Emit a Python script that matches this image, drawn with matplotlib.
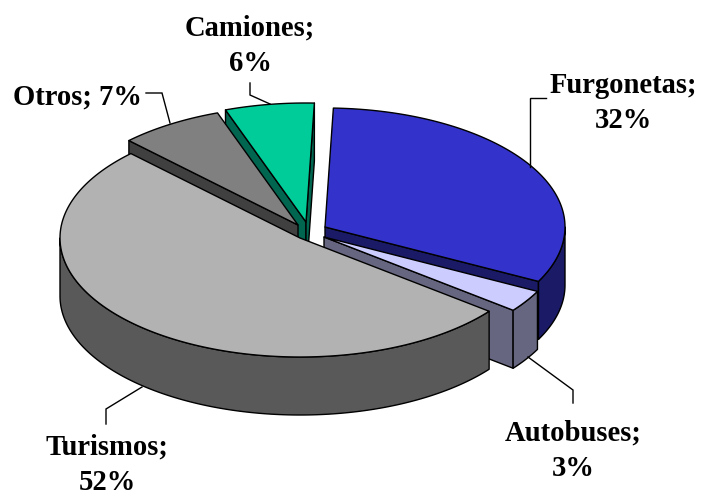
import numpy as np
import matplotlib
matplotlib.use("Agg")
import matplotlib.pyplot as plt
from matplotlib.patches import Polygon

categories = ["Furgonetas", "Autobuses", "Turismos", "Otros", "Camiones"]
values = [32, 3, 52, 7, 6]

top_colors = ["#3333CC", "#CCCCFF", "#B2B2B2", "#808080", "#00CC99"]
side_colors = ["#1A1A66", "#666680", "#595959", "#404040", "#006650"]
tips = [(325, 227), (324, 237), (300, 238), (298, 225), (306, 222)]
label_pos = [(623, 103), (573, 451), (107, 465), (77, 97), (250, 46)]
leaders = [
    [(546, 98), (530, 98), (530, 167)],
    [(528, 357), (573, 390), (573, 403)],
    [(142, 387), (106, 409), (106, 424)],
    [(146, 93), (162, 93), (170, 123)],
    [(250, 83), (250, 95), (270, 104)],
]

RX, RY, DEPTH = 240, 119, 58
START = 2.0
draw_order = [4, 3, 0, 1, 2]

plt.rcParams["font.family"] = ["Liberation Serif", "DejaVu Serif"]
fig = plt.figure(figsize=(7.02, 4.97), dpi=100)
ax = fig.add_axes([0, 0, 1, 1])
ax.set_xlim(0, 702)
ax.set_ylim(497, 0)
ax.axis("off")

bounds = START + np.concatenate([[0], np.cumsum(values)]) * 360 / sum(values)


def arc(tip, a, b):
    t = np.radians(np.linspace(a, b, max(2, int(abs(b - a)) * 2)))
    return np.column_stack([tip[0] + RX * np.sin(t), tip[1] - RY * np.cos(t)])


def add(pts, color, z):
    ax.add_patch(Polygon(pts, closed=True, facecolor=color, edgecolor="black",
                         linewidth=1.0, joinstyle="round", zorder=z))


drop = np.array([0, DEPTH])
z = 1
for i in draw_order:
    a, b = bounds[i], bounds[i + 1]
    tip = np.array(tips[i], float)
    for ang, visible in ((a, np.sin(np.radians(a)) < 0), (b, np.sin(np.radians(b)) > 0)):
        if visible:
            p = arc(tip, ang, ang + 1e-6)[0]
            add([tip, p, p + drop, tip + drop], side_colors[i], z)
            z += 1
    lo, hi = max(a, 90), min(b, 270)
    if lo < hi:
        edge = arc(tip, lo, hi)
        add(np.vstack([edge, (edge + drop)[::-1]]), side_colors[i], z)
        z += 1
    add(np.vstack([[tip], arc(tip, a, b)]), top_colors[i], z)
    z += 1

for i, cat in enumerate(categories):
    pts = np.array(leaders[i])
    ax.plot(pts[:, 0], pts[:, 1], color="black", lw=1.0, zorder=z,
            solid_joinstyle="miter")
    sep = " " if cat == "Otros" else "\n"
    ax.text(*label_pos[i], f"{cat};{sep}{values[i]}%", ha="center", va="center",
            fontsize=20.6, fontweight="bold", color="black", linespacing=1.4,
            multialignment="center", zorder=z)

fig.savefig("out.png", dpi=100, facecolor="white")
